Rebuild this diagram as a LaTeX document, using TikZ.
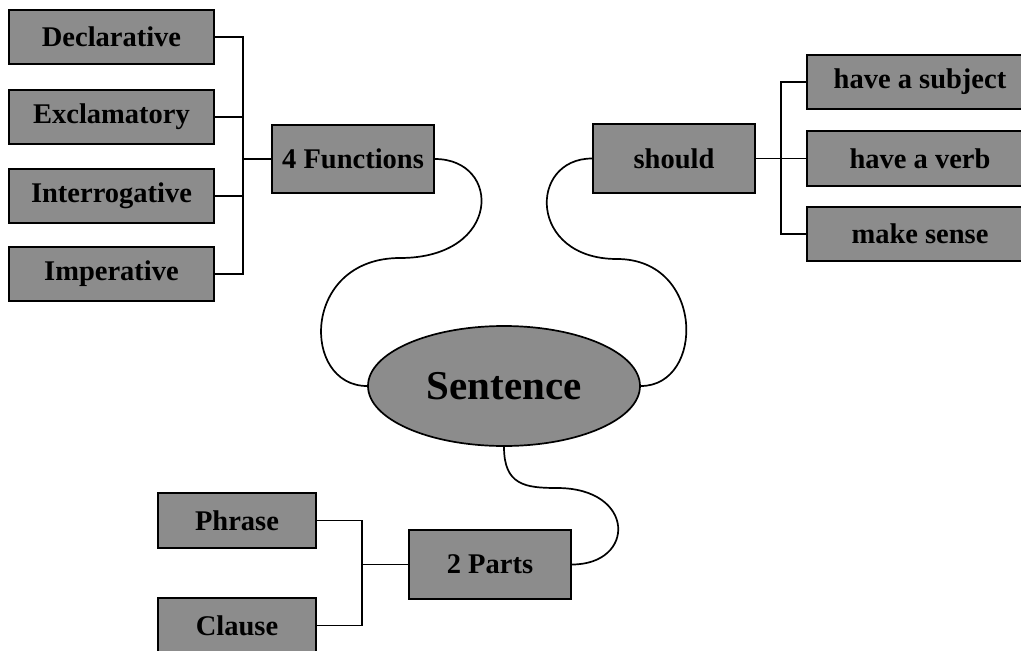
\documentclass[tikz,border=0pt]{standalone}
\usepackage{fontspec}
\setmainfont{Liberation Serif}
\usetikzlibrary{shapes.geometric}
\definecolor{boxgray}{RGB}{140,140,140}
\tikzset{
  box/.style={draw=black, fill=boxgray, line width=1.8pt, rectangle, inner sep=0pt,
    font=\fontsize{28.5}{30}\selectfont\bfseries},
  link/.style={draw=black, line width=1.7pt},
}
\begin{document}
\begin{tikzpicture}[x=1pt,y=-1pt]
\useasboundingbox (0,0) rectangle (1021,651);
\clip (0,0) rectangle (1021,651);

% central topic
\node[ellipse, draw=black, fill=boxgray, line width=1.7pt, inner sep=0pt,
      minimum width=272pt, minimum height=120pt,
      font=\fontsize{41}{44}\selectfont\bfseries] (sent) at (504,386) {Sentence};

% functions branch
\node[box, minimum width=205pt, minimum height=54pt] (decl) at (111.5,37) {Declarative};
\node[box, minimum width=205pt, minimum height=54pt] (excl) at (111.5,117) {Exclamatory};
\node[box, minimum width=205pt, minimum height=54pt] (inter) at (111.5,196) {Interrogative};
\node[box, minimum width=205pt, minimum height=54pt] (imper) at (111.5,274) {Imperative};
\node[box, minimum width=162pt, minimum height=68pt] (fn) at (353,159) {4 Functions};

% "should" branch
\node[box, minimum width=162pt, minimum height=69pt] (should) at (674,158.5) {should};
\node[box, minimum width=226pt, minimum height=54pt] (subj) at (920,82) {have a subject};
\node[box, minimum width=226pt, minimum height=55pt] (verb) at (920,158.5) {have a verb};
\node[box, minimum width=226pt, minimum height=54pt] (sense) at (920,234) {make sense};

% parts branch
\node[box, minimum width=162pt, minimum height=69pt] (parts) at (490,564.5) {2 Parts};
\node[box, minimum width=158pt, minimum height=55pt] (phrase) at (237,520.5) {Phrase};
\node[box, minimum width=158pt, minimum height=55pt] (clause) at (237,625.5) {Clause};

% junction points of the elbow connectors
\coordinate (lj) at (243,159);
\coordinate (rj) at (781,158.5);
\coordinate (bj) at (362,564.5);

\draw[link] (decl.east) -| (lj);
\draw[link] (excl.east) -| (lj);
\draw[link] (inter.east) -| (lj);
\draw[link] (imper.east) -| (lj);
\draw[link] (lj) -- (fn.west);

\draw[link] (should.east) -- (rj);
\draw[link] (rj) |- (subj.west);
\draw[link] (rj) |- (verb.west);
\draw[link] (rj) |- (sense.west);

\draw[link] (phrase.east) -| (bj);
\draw[link] (clause.east) -| (bj);
\draw[link] (bj) -- (parts.west);

% wavy links to the central topic
\coordinate (lw) at (400,258);
\coordinate (rw) at (617,259);
\coordinate (bw) at (557,488);
\draw[link] (fn.east) .. controls (502,159) and (502,258) .. (lw)
            .. controls (301,258) and (301,386) .. (sent.west);
\draw[link] (should.west) .. controls (528,158.5) and (528,259) .. (rw)
            .. controls (705,259) and (705,386) .. (sent.east);
\draw[link] (sent.south) .. controls (504,485) and (525,488) .. (bw)
            .. controls (636,488) and (636,564.5) .. (parts.east);
\end{tikzpicture}
\end{document}
